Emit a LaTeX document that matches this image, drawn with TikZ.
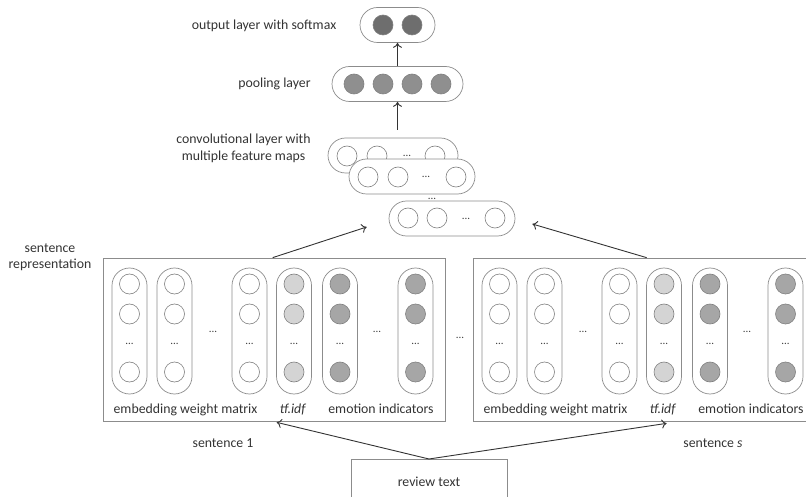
\documentclass[tikz,border=0pt]{standalone}
\usepackage{fontspec}
\setmainfont{Carlito}
\usetikzlibrary{arrows.meta}
\tikzset{
  lbl/.style={font=\fontsize{13.8}{17}\selectfont, inner sep=0pt, anchor=base, text=black!80, align=center},
  dotz/.style={font=\fontsize{11}{12}\selectfont, inner sep=0pt, anchor=base, text=black!75},
  pill/.style={draw=black!45, line width=0.7pt, rounded corners=17.5pt, fill=white},
  hpill/.style={pill, minimum height=35pt},
  vpill/.style={pill, minimum width=35pt, minimum height=126pt},
  ball/.style={circle, draw=black!50, line width=0.6pt, minimum size=20pt, inner sep=0pt},
  frame/.style={draw=black!45, line width=0.7pt, inner sep=0pt},
  arr/.style={-{To[length=5pt,width=9pt]}, line width=0.9pt, draw=black!80},
}
\newcommand\sentblock[2]{%
  \begin{scope}[xshift=#2pt]
    \node[frame, minimum width=342pt, minimum height=163pt] (#1box) at (274,339.5) {};
    \foreach \cx/\fc [count=\i] in {26.5/white,71.5/white,146.5/white,191/black!17,237/black!35,312.5/black!35} {
      \node[vpill] (#1col\i) at (103+\cx,331) {};
      \node[ball, fill=\fc] (#1c\i-a) at (103+\cx,284) {};
      \node[ball, fill=\fc] (#1c\i-b) at (103+\cx,314) {};
      \node[dotz] (#1c\i-d) at (103+\cx,344.7) {...};
      \node[ball, fill=\fc] (#1c\i-c) at (103+\cx,372) {};
    }
    \node[dotz] (#1gapA) at (213,332.7) {...};
    \node[dotz] (#1gapB) at (377,332.7) {...};
    \node[lbl] (#1lA) at (185.5,413) {embedding weight matrix};
    \node[lbl] (#1lB) at (293,413) {\textit{tf.idf}};
    \node[lbl] (#1lC) at (381,413) {emotion indicators};
  \end{scope}}
\begin{document}
\begin{tikzpicture}[x=1pt,y=-1pt]
\clip (0,0) rectangle (806,497);
\useasboundingbox (0,0) rectangle (806,497);

% output layer
\node[hpill, minimum width=75pt] (out) at (397.5,25) {};
\node[ball, fill=black!57] (o1) at (383,25) {};
\node[ball, fill=black!57] (o2) at (412,25) {};
\node[lbl] (outlbl) at (264,30) {output layer with softmax};

% pooling layer
\node[hpill, minimum width=131pt] (pool) at (397.5,84) {};
\foreach \x [count=\i] in {354,383,412,441}
  \node[ball, fill=black!44] (p\i) at (\x,84) {};
\node[lbl] (poollbl) at (274.5,88) {pooling layer};

\draw[arr] (pool.north) -- (out.south);

% convolutional layer
\node[hpill, minimum width=130pt] (conv1) at (393,155.5) {};
\node[ball, fill=white] (k1a) at (347,156) {};
\node[ball, fill=white] (k1b) at (377,156) {};
\node[dotz] (k1d) at (407,156.5) {...};
\node[ball, fill=white] (k1c) at (435,156) {};

\node[hpill, minimum width=126pt] (conv2) at (412,176.5) {};
\node[ball, fill=white] (k2a) at (368,177) {};
\node[ball, fill=white] (k2b) at (398,177) {};
\node[dotz] (k2d) at (426,178) {...};
\node[ball, fill=white] (k2c) at (456,177) {};

\node[dotz] (kgap) at (432,199.7) {...};

\node[hpill, minimum width=126pt] (conv3) at (452,218.5) {};
\node[ball, fill=white] (k3a) at (408,218) {};
\node[ball, fill=white] (k3b) at (437,218) {};
\node[dotz] (k3d) at (466,219.5) {...};
\node[ball, fill=white] (k3c) at (495,218) {};

\node[lbl] (convlbl) at (243.5,161) {convolutional layer with\\multiple feature maps};

\coordinate (convtop) at (397.5,130);
\draw[arr] (convtop) -- (pool.south);

% sentence blocks
\node[lbl] (sentrep) at (50,269) {sentence\\representation};
\sentblock{s1}{0}
\sentblock{s2}{370}
\node[dotz] (midgap) at (460,338.7) {...};

\draw[arr] ([xshift=170pt]s1box.north west) -- ([shift={(-22,8.5)}]conv3.west);
\draw[arr] ([xshift=174pt]s2box.north west) -- ([shift={(17,5.5)}]conv3.east);

\node[lbl] (sent1) at (223,447) {sentence 1};
\node[lbl] (sents) at (713,447) {sentence \textit{s}};

% review text
\node[frame, minimum width=156pt, minimum height=44pt, anchor=north, font=\fontsize{13.8}{17}\selectfont, text=black!80] (rev) at (429,459) {review text};

\draw[arr] (rev.north) -- ([xshift=174pt,yshift=-1pt]s1box.south west);
\draw[arr] (rev.north) -- ([xshift=194pt,yshift=-2pt]s2box.south west);
\end{tikzpicture}
\end{document}
